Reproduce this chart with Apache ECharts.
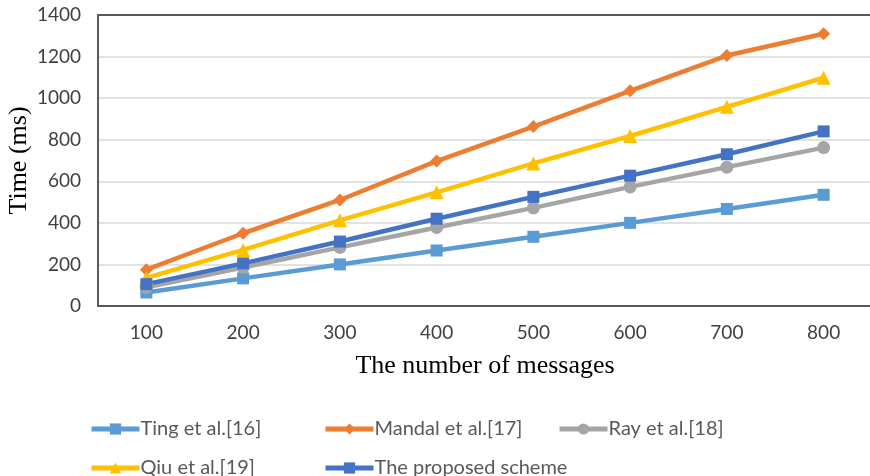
<!DOCTYPE html>
<html>
<head>
<meta charset="utf-8">
<script src="https://cdn.jsdelivr.net/npm/echarts@6/dist/echarts.min.js"></script>
<style>
  html, body { margin: 0; padding: 0; background: #fff; }
  #chart { width: 870px; height: 476px; }
</style>
</head>
<body>
<div id="chart"></div>
<script>
// Message counts on the x axis
const messageCounts = ['100', '200', '300', '400', '500', '600', '700', '800'];

// Processing time (ms) for each scheme
const tingTimes     = [65, 133, 200, 267, 333, 400, 467, 535];
const mandalTimes   = [175, 350, 510, 697, 863, 1035, 1205, 1310];
const rayTimes      = [90, 185, 282, 378, 472, 573, 668, 762];
const qiuTimes      = [135, 270, 412, 547, 686, 818, 958, 1098];
const proposedTimes = [105, 205, 310, 420, 525, 627, 730, 840];

const seriesNames = ['Ting et al.[16]', 'Mandal et al.[17]', 'Ray et al.[18]', 'Qiu et al.[19]', 'The proposed scheme'];

const chart = echarts.init(document.getElementById('chart'), null, { renderer: 'canvas' });

const tickFont = { fontFamily: 'Lato', fontSize: 19, color: '#404040' };
const legendFont = { fontFamily: 'Lato', fontSize: 20, color: '#595959' };

function makeSeries(name, data, color, symbol, size) {
  return {
    name: name,
    type: 'line',
    data: data,
    symbol: symbol,
    symbolSize: size,
    showAllSymbol: true,
    lineStyle: { color: color, width: 4.5 },
    itemStyle: { color: color },
    emphasis: { disabled: true },
    animation: false
  };
}

function legendAt(name, left, top) {
  return {
    data: [name],
    left: left,
    top: top,
    padding: 0,
    itemWidth: 48,
    itemHeight: 14,
    itemGap: 0,
    lineStyle: { width: 5 },
    textStyle: Object.assign({ padding: [0, 0, 0, -4] }, legendFont),
    selectedMode: false
  };
}

chart.setOption({
  backgroundColor: '#ffffff',
  animation: false,
  grid: { left: 98, right: -2, top: 15, bottom: 170, containLabel: false, outerBoundsMode: 'none' },
  legend: [
    legendAt(seriesNames[0], 89, 419),
    legendAt(seriesNames[1], 323, 419),
    legendAt(seriesNames[2], 557, 419),
    legendAt(seriesNames[3], 89, 458),
    legendAt(seriesNames[4], 323, 458)
  ],
  xAxis: [
    {
      type: 'category',
      data: messageCounts,
      boundaryGap: true,
      name: 'The number of messages',
      nameLocation: 'middle',
      nameGap: 47,
      nameMoveOverlap: false,
      nameTextStyle: { fontFamily: 'Liberation Serif', fontSize: 26, color: '#000' },
      axisLine: { lineStyle: { color: '#595959', width: 2 } },
      axisTick: { show: false },
      axisLabel: Object.assign({ margin: 17 }, tickFont),
      splitLine: { show: false }
    },
    {
      type: 'category',
      data: messageCounts,
      position: 'top',
      axisLine: { show: true, onZero: false, lineStyle: { color: '#595959', width: 2 } },
      axisTick: { show: false },
      axisLabel: { show: false },
      splitLine: { show: false }
    }
  ],
  yAxis: {
    type: 'value',
    min: 0,
    max: 1400,
    interval: 200,
    name: 'Time (ms)',
    nameLocation: 'middle',
    nameGap: 66,
    nameMoveOverlap: false,
    nameRotate: 90,
    nameTextStyle: { fontFamily: 'Liberation Serif', fontSize: 26, color: '#000' },
    axisLine: { show: true, lineStyle: { color: '#595959', width: 2 } },
    axisTick: { show: false },
    axisLabel: Object.assign({ margin: 17, formatter: function (v) { return String(v); } }, tickFont),
    splitLine: { lineStyle: { color: '#d9d9d9', width: 1.5 } }
  },
  series: [
    makeSeries(seriesNames[0], tingTimes, '#5B9BD5', 'rect', 12),
    makeSeries(seriesNames[1], mandalTimes, '#ED7D31', 'diamond', 13),
    makeSeries(seriesNames[2], rayTimes, '#A5A5A5', 'circle', 13),
    makeSeries(seriesNames[3], qiuTimes, '#FFC000', 'triangle', 14),
    makeSeries(seriesNames[4], proposedTimes, '#4472C4', 'rect', 12)
  ]
});
</script>
</body>
</html>
